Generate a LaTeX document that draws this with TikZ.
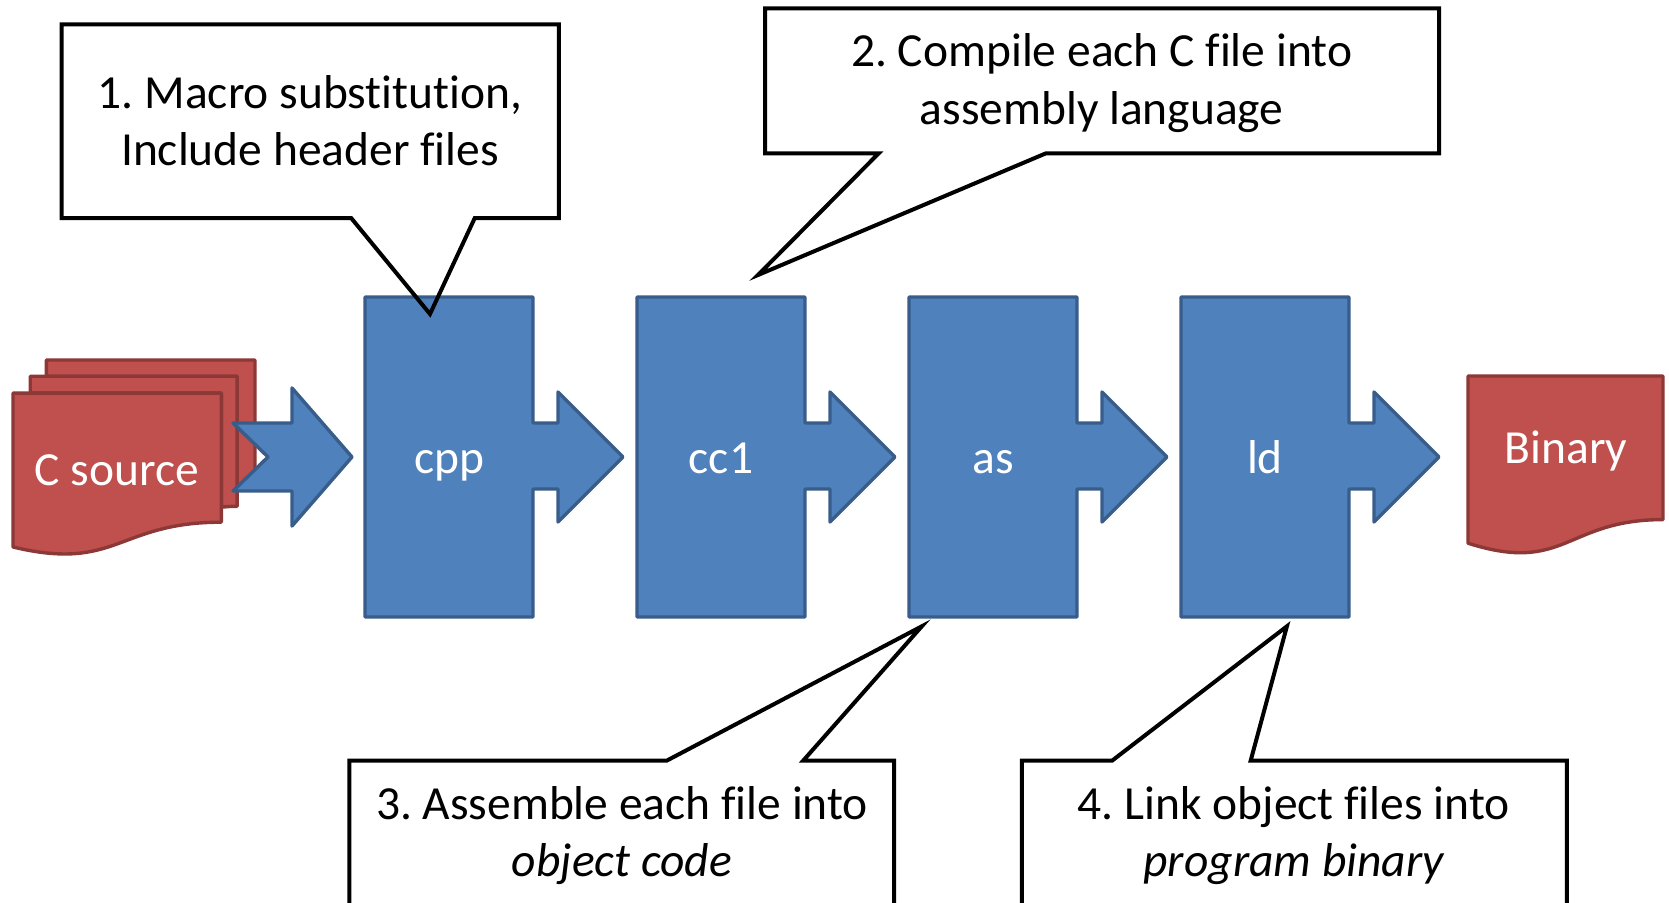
\documentclass[tikz,border=0pt]{standalone}
\usepackage{fontspec}
\setmainfont{Carlito}[Ligatures=NoCommon]
\frenchspacing
\usepackage{tikz}
\tikzset{px/.style={x=0.5pt,y=-0.5pt,every node/.style={inner sep=0pt,outer sep=0pt}}}
\definecolor{stgfill}{HTML}{4F81BD}
\definecolor{stgline}{HTML}{385D8A}
\definecolor{docfill}{HTML}{C0504D}
\definecolor{docline}{HTML}{8C3836}
\tikzset{
  stage/.style={draw=stgline,fill=stgfill,line width=1.7pt,line join=round},
  docu/.style={draw=docline,fill=docfill,line width=1.7pt,line join=round},
  bubble/.style={draw=black,line width=2pt,line join=miter},
  txt/.style={font=\fontsize{23.75}{28.75}\selectfont},
  lbl/.style={txt,text=white,anchor=base},
  note/.style={txt,text=black,align=center,anchor=center},
}

\begin{document}
\begin{tikzpicture}[px]
  \useasboundingbox (0,0) rectangle (1669,903);
  % --- C source (three pages)
  \draw[docu] (46.3,376.3) -- (46.3,360) -- (255,360) -- (255,489.5)
    .. controls (246,489.5) and (237.1,490.2) .. (237.1,490.2) -- (237.1,376.3) -- cycle;
  \draw[docu] (30.2,393.1) -- (30.2,376.3) -- (237.1,376.3) -- (237.1,506.3)
    .. controls (229.2,506.3) and (221.3,507.2) .. (221.3,507.2) -- (221.3,393.1) -- cycle;
  \draw[docu] (13,547) .. controls (117.2,571.9) and (117.2,522.2) .. (221.3,522.2)
    -- (221.3,393.1) -- (13,393.1) -- cycle;
  \node[lbl] (src) at (117,485.7) {C source};
  % notched arrow into cpp
  \draw[stage] (233,423) -- (292,423) -- (292,388) -- (352,457) -- (292,526)
    -- (292,491) -- (233,491) -- (268,457) -- cycle;
  % --- stages
  \draw[stage] (365,297) -- (533,297) -- (533,423) -- (558,423) -- (558,392) -- (623,457)
    -- (558,522) -- (558,489) -- (533,489) -- (533,617) -- (365,617) -- cycle;
  \node[lbl] (cpp) at (449,473) {cpp};
  \draw[stage] (637,297) -- (805,297) -- (805,423) -- (830,423) -- (830,392) -- (895,457)
    -- (830,522) -- (830,489) -- (805,489) -- (805,617) -- (637,617) -- cycle;
  \node[lbl] (ccone) at (721,473) {cc1};
  \draw[stage] (909,297) -- (1077,297) -- (1077,423) -- (1102,423) -- (1102,392) -- (1167,457)
    -- (1102,522) -- (1102,489) -- (1077,489) -- (1077,617) -- (909,617) -- cycle;
  \node[lbl] (as) at (993,473) {as};
  \draw[stage] (1181,297) -- (1349,297) -- (1349,423) -- (1374,423) -- (1374,392) -- (1439,457)
    -- (1374,522) -- (1374,489) -- (1349,489) -- (1349,617) -- (1181,617) -- cycle;
  \node[lbl] (ld) at (1265,473) {ld};
  % --- output
  \draw[docu] (1468,376) -- (1663,376) -- (1663,519.6)
    .. controls (1565.5,519.6) and (1565.5,574.2) .. (1468,543.2) -- cycle;
  \node[lbl] (bin) at (1566,463.3) {Binary};
  % --- callouts
  \draw[bubble] (61.7,24.5) -- (558.8,24.5) -- (558.8,218.2) -- (474.7,218.2) -- (430,314)
    -- (351.3,218.2) -- (61.7,218.2) -- cycle;
  \node[note] (pre) at (310,125.5) {\strut 1. Macro substitution,\\\strut Include header files};
  \draw[bubble] (765,8.5) -- (1439,8.5) -- (1439,153.5) -- (1045.5,153.5) -- (758,275)
    -- (878.5,153.5) -- (765,153.5) -- cycle;
  \node[note] (comp) at (1101.7,84) {\strut 2. Compile each C file into\\\strut assembly language};
  \draw[bubble] (349.3,760.5) -- (667,760.5) -- (921.8,626.3) -- (803.3,760.5)
    -- (894.1,760.5) -- (894.1,905) -- (349.3,905) -- cycle;
  \node[note] (asm) at (622,836.3) {\strut 3. Assemble each file into\\\strut\itshape object code};
  \draw[bubble] (1021.8,760.5) -- (1112.3,760.5) -- (1286.9,626.3) -- (1250.7,760.5)
    -- (1566.8,760.5) -- (1566.8,905) -- (1021.8,905) -- cycle;
  \node[note] (link) at (1293.8,836.3) {\strut 4. Link object files into\\\strut\itshape program binary};
\end{tikzpicture}
\end{document}
